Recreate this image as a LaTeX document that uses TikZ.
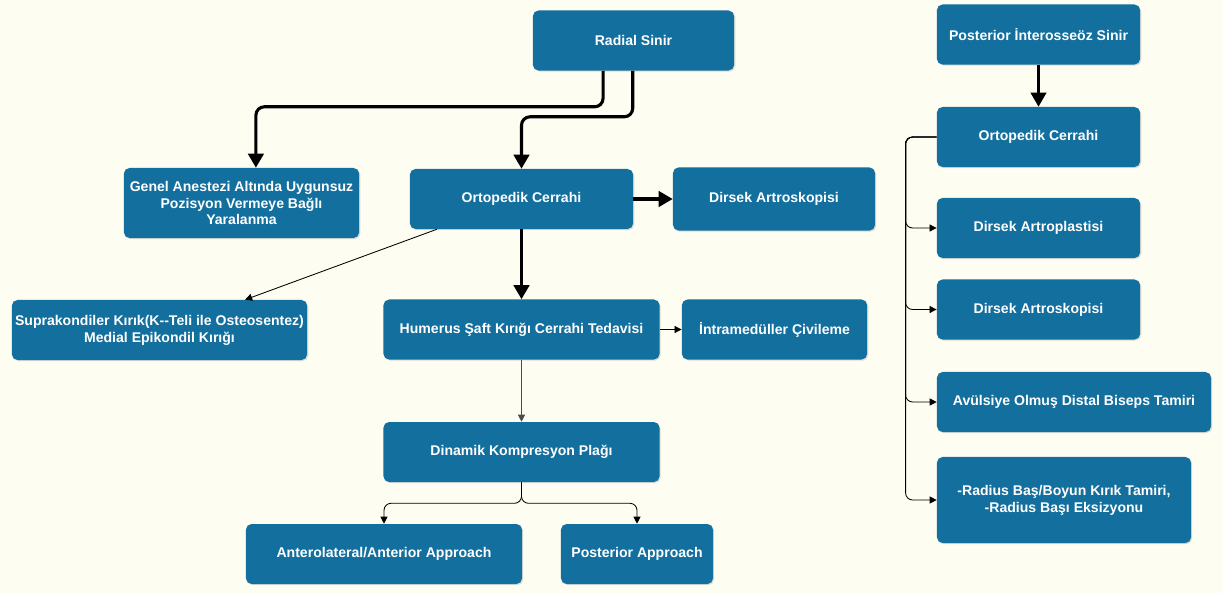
\documentclass[tikz,border=0pt]{standalone}
\usepackage{fontspec}
\setmainfont{Liberation Sans}
\usepackage{xcolor}
\usepackage{tikz}
\usetikzlibrary{positioning,arrows.meta,shadows}

\definecolor{boxblue}{RGB}{18,111,158}
\definecolor{paper}{RGB}{253,253,242}

\begin{document}
\begin{tikzpicture}[
    x=0.025cm, y=-0.025cm,
    box/.style={rectangle, rounded corners=4pt, fill=boxblue, text=white, font=\bfseries\fontsize{10}{12}\selectfont, align=center, minimum height=1.5cm, inner sep=2pt, drop shadow={shadow xshift=0.8pt, shadow yshift=-0.8pt, opacity=0.25}},
    bigarrow/.style={line width=2.2pt, -{Triangle[length=10pt,width=11pt]}, rounded corners=6pt},
    smallarrow/.style={line width=0.6pt, -{Triangle[length=5pt,width=5pt]}, rounded corners=5pt}
]
    \fill[paper] (0,0) rectangle (1223,593);
    \useasboundingbox (0,0) rectangle (1223,593);

    % radial sinir tree
    \node[box, minimum width=5.03cm] (rad) at (633.5,40.5) {Radial Sinir};
    \node[box, minimum width=5.58cm] (ort) at (521.5,199) {Ortopedik Cerrahi};
    \node[box, minimum width=5.05cm, minimum height=1.58cm] (dirsA) at (774,199) {Dirsek Artroskopisi};
    \node[box, minimum width=5.88cm, minimum height=1.75cm] (genel) at (241.5,203) {Genel Anestezi Altında Uygunsuz\\Pozisyon Vermeye Bağlı\\Yaralanma};
    \node[box, minimum width=7.38cm] (supra) at (159.5,330) {Suprakondiler Kırık(K-{}-Teli ile Osteosentez)\\Medial Epikondil Kırığı};
    \node[box, minimum width=6.9cm] (hum) at (521.5,329.5) {Humerus Şaft Kırığı Cerrahi Tedavisi};
    \node[box, minimum width=4.63cm] (intra) at (774.5,329.5) {İntramedüller Çivileme};
    \node[box, minimum width=6.9cm] (dkp) at (521.5,452) {Dinamik Kompresyon Plağı};
    \node[box, minimum width=6.9cm] (ant) at (384,554) {Anterolateral/Anterior Approach};
    \node[box, minimum width=3.8cm] (postapp) at (637,554) {Posterior Approach};

    % posterior interosseoz tree
    \node[box, minimum width=5.08cm] (pin) at (1038.5,34.5) {Posterior İnterosseöz Sinir};
    \node[box, minimum width=5.08cm] (ort2) at (1038.5,137) {Ortopedik Cerrahi};
    \node[box, minimum width=5.08cm] (dart) at (1038.5,228) {Dirsek Artroplastisi};
    \node[box, minimum width=5.08cm] (dask) at (1038.5,309.5) {Dirsek Artroskopisi};
    \node[box, minimum width=6.85cm] (avul) at (1074,402) {Avülsiye Olmuş Distal Biseps Tamiri};
    \node[box, minimum width=6.35cm, minimum height=2.15cm] (radb) at (1064,500) {-Radius Baş/Boyun Kırık Tamiri,\\-Radius Başı Eksizyonu};

    \draw[bigarrow] ([xshift=-0.76cm]rad.south) -- ++(0,36) -| ([xshift=0.36cm]genel.north);
    \draw[bigarrow] ([xshift=-0.02cm]rad.south) -- ++(0,46) -| (ort.north);
    \draw[bigarrow] (ort.east) -- (dirsA.west);
    \draw[bigarrow] (ort.south) -- (hum.north);
    \draw[smallarrow] ([xshift=0.68cm]ort.south west) -- ([xshift=2.14cm]supra.north);
    \draw[smallarrow] (hum.east) -- (intra.west);
    \draw[smallarrow, draw=black!70] (hum.south) -- (dkp.north);
    \draw[smallarrow] (dkp.south) -- ++(0,21) -| (ant.north);
    \draw[smallarrow] (dkp.south) -- ++(0,21) -| (postapp.north);

    \draw[bigarrow, line width=1.8pt] (pin.south) -- (ort2.north);
    \foreach \t in {dart,dask,avul,radb}
        \draw[smallarrow] (ort2.west) -- ++(-31,0) |- (\t.west);

\end{tikzpicture}
\end{document}
